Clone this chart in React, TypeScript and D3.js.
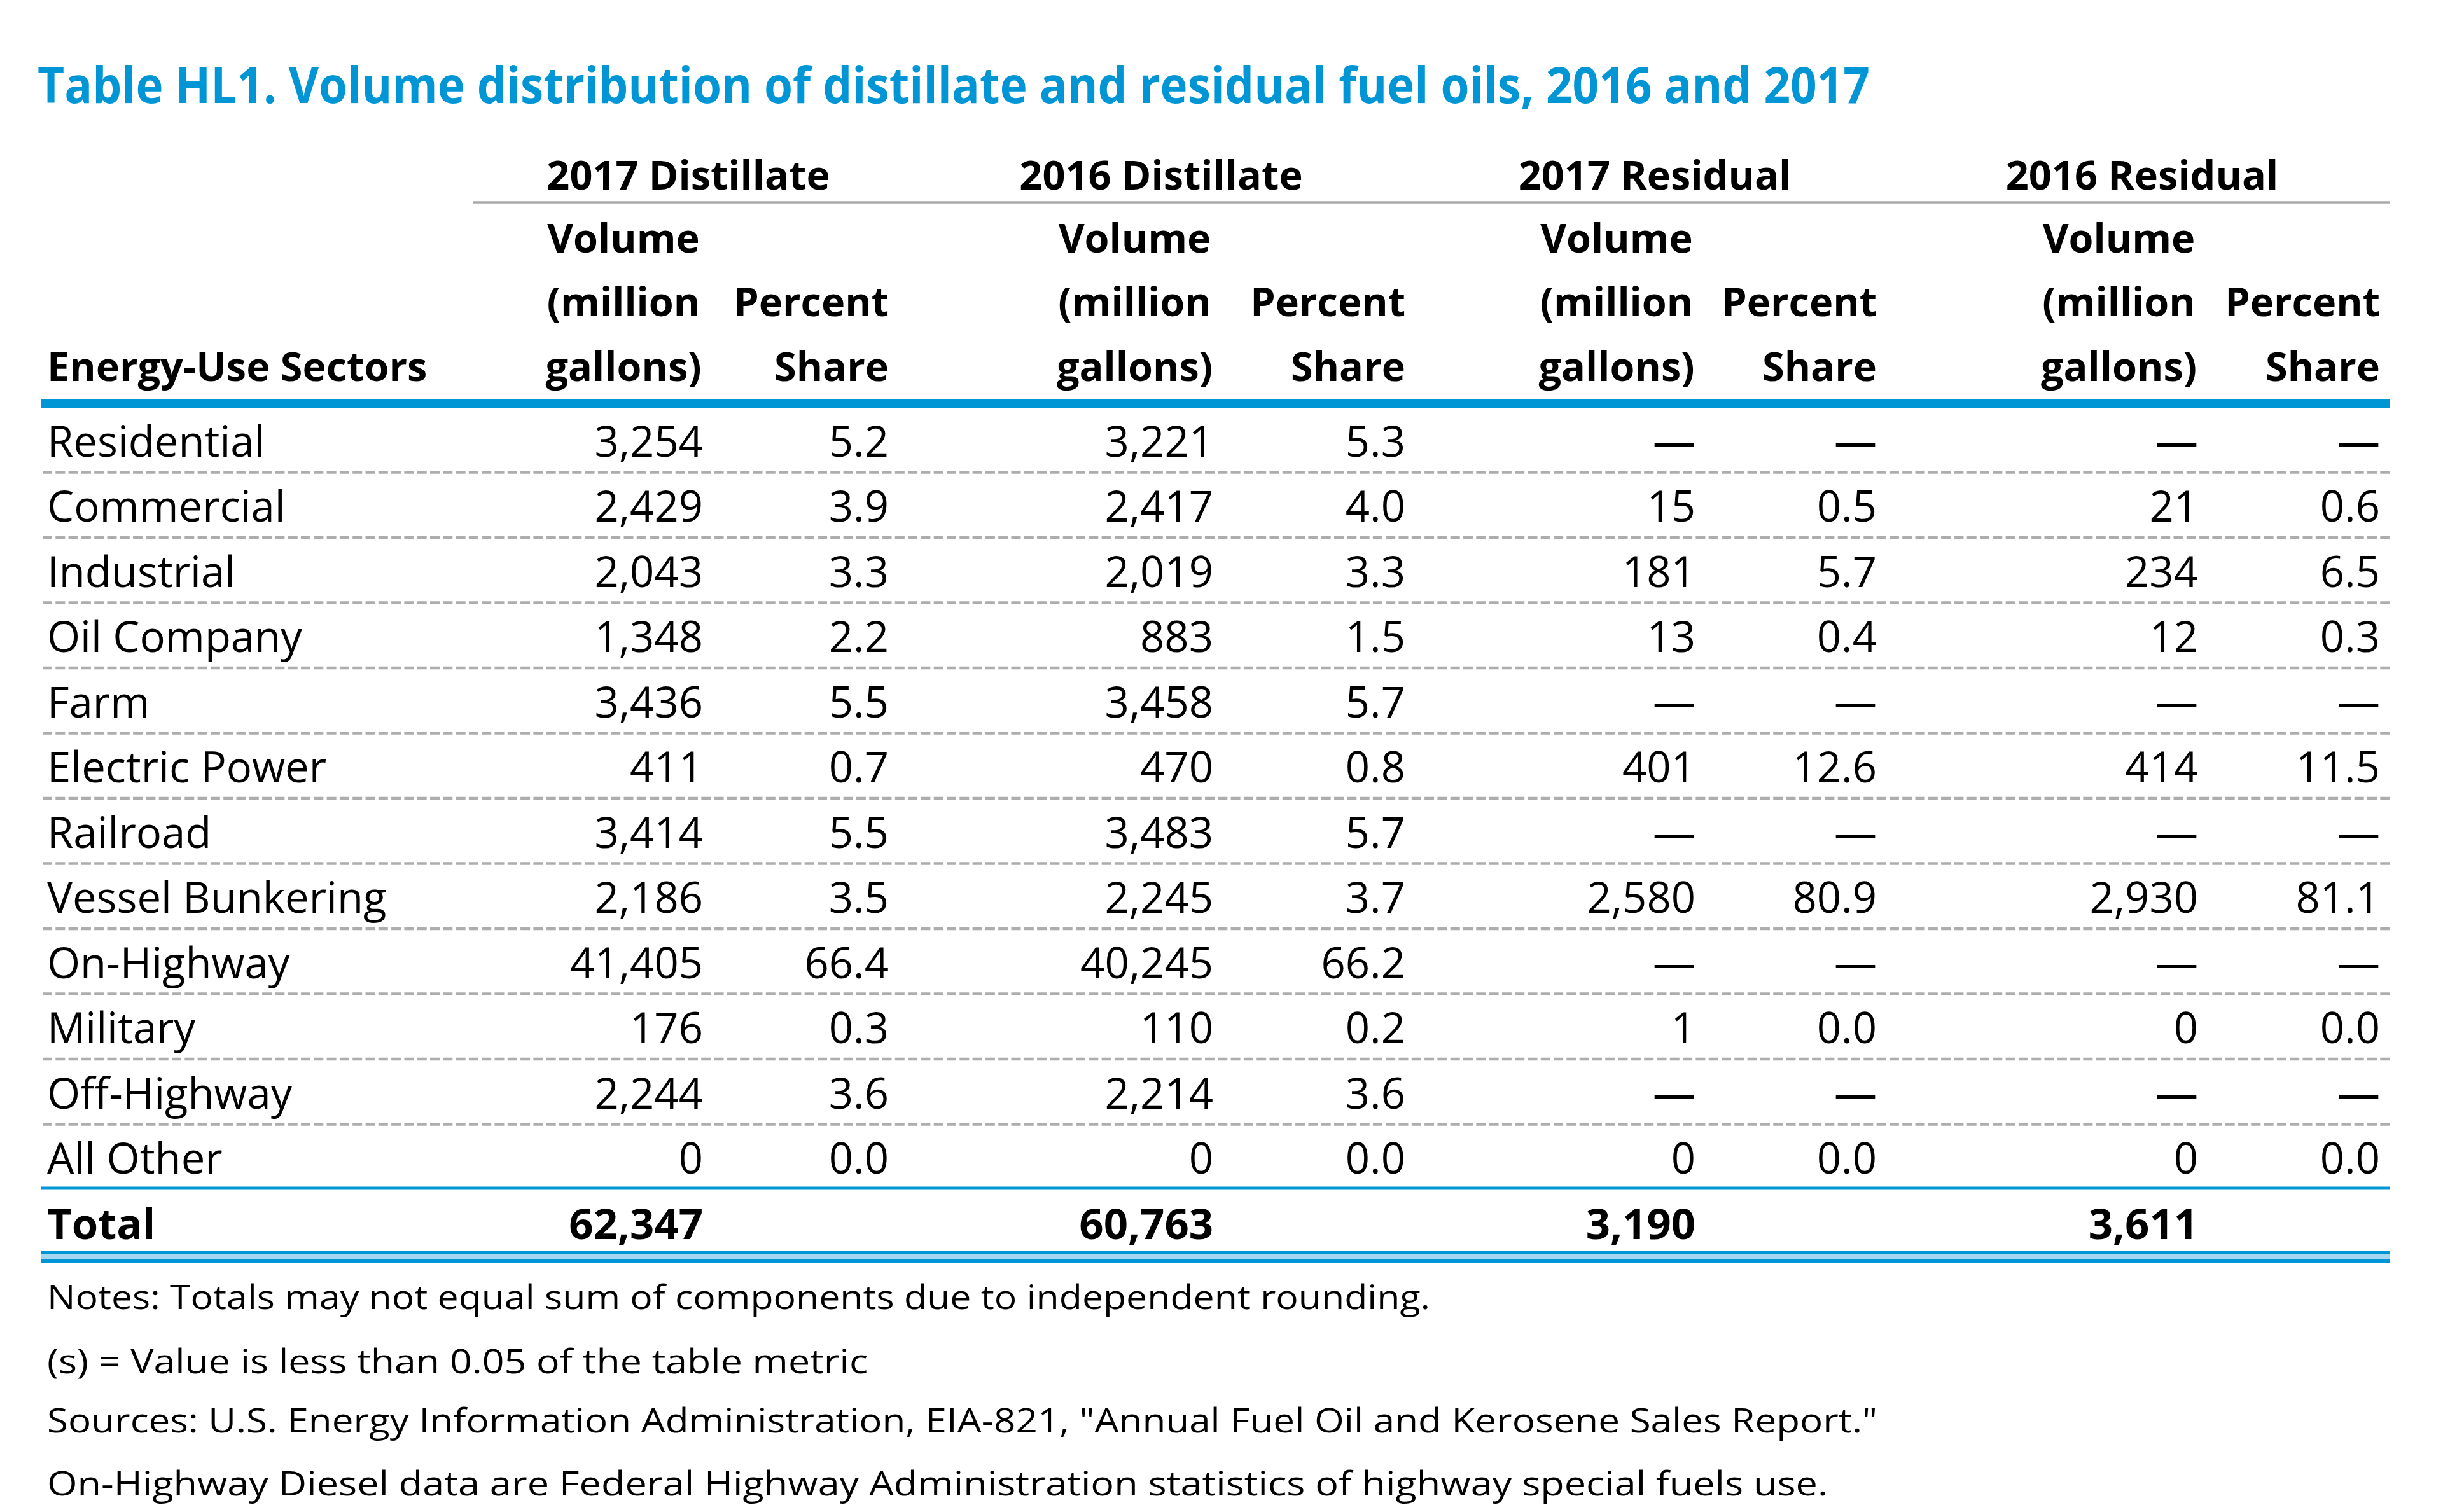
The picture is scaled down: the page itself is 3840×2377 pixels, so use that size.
import React from "react";
import * as d3 from "d3";

const TITLE = "Table HL1. Volume distribution of distillate and residual fuel oils, 2016 and 2017";
const sectors = [
  "Residential", "Commercial", "Industrial", "Oil Company", "Farm", "Electric Power",
  "Railroad", "Vessel Bunkering", "On-Highway", "Military", "Off-Highway", "All Other",
];
const groups = ["2017 Distillate", "2016 Distillate", "2017 Residual", "2016 Residual"];
const dist2017Vol = [3254, 2429, 2043, 1348, 3436, 411, 3414, 2186, 41405, 176, 2244, 0];
const dist2017Share = [5.2, 3.9, 3.3, 2.2, 5.5, 0.7, 5.5, 3.5, 66.4, 0.3, 3.6, 0.0];
const dist2016Vol = [3221, 2417, 2019, 883, 3458, 470, 3483, 2245, 40245, 110, 2214, 0];
const dist2016Share = [5.3, 4.0, 3.3, 1.5, 5.7, 0.8, 5.7, 3.7, 66.2, 0.2, 3.6, 0.0];
const resid2017Vol = [null, 15, 181, 13, null, 401, null, 2580, null, 1, null, 0];
const resid2017Share = [null, 0.5, 5.7, 0.4, null, 12.6, null, 80.9, null, 0.0, null, 0.0];
const resid2016Vol = [null, 21, 234, 12, null, 414, null, 2930, null, 0, null, 0];
const resid2016Share = [null, 0.6, 6.5, 0.3, null, 11.5, null, 81.1, null, 0.0, null, 0.0];
const totals = [62347, 60763, 3190, 3611];
const notes = [
  "Notes: Totals may not equal sum of components due to independent rounding.",
  "(s) = Value is less than 0.05 of the table metric",
  "Sources: U.S. Energy Information Administration, EIA-821, \"Annual Fuel Oil and Kerosene Sales Report.\"",
  "On-Highway Diesel data are Federal Highway Administration statistics of highway special fuels use.",
];

const W = 3840;
const H = 2377;
const BLUE = "#0096D6";
const FONT = "'Open Sans', 'Noto Sans', sans-serif";

export default function App() {
  const volCols = [dist2017Vol, dist2016Vol, resid2017Vol, resid2016Vol];
  const shareCols = [dist2017Share, dist2016Share, resid2017Share, resid2016Share];

  // layout scales
  const rowY = d3.scaleLinear().domain([0, 12]).range([717.5, 1947.5]);
  const groupIdx = d3.range(groups.length);
  const volRight = d3.scaleOrdinal<number, number>().domain(groupIdx).range([1105, 1907, 2665, 3455]);
  const shareRight = d3.scaleOrdinal<number, number>().domain(groupIdx).range([1397, 2209, 2950, 3741]);
  const volLeft = d3.scaleOrdinal<number, number>().domain(groupIdx).range([855, 1660, 2417, 3206]);
  const groupCenter = d3.scaleOrdinal<number, number>().domain(groupIdx).range([1082, 1825, 2601, 3367]);
  const noteY = d3.scaleOrdinal<number, number>().domain(d3.range(4)).range([2058, 2159, 2252, 2351]);
  const noteW = [2174, 1290, 2877, 2799];

  const fmtVol = d3.format(",");
  const fmtShare = d3.format(".1f");
  const DASH = "\u2014";

  const xL = 64;
  const xR = 3757;
  const bodySize = 67;
  const headSize = 63;

  return (
    <svg
      width={W}
      height={H}
      viewBox={`0 0 ${W} ${H}`}
      style={{ position: "absolute", left: 0, top: 0, background: "#fff", display: "block" }}
      fontFamily={FONT}
    >
      <rect x={0} y={0} width={W} height={H} fill="#fff" />
      {/* Title */}
      <text x={59} y={162} fontSize={78} fontWeight={700} fill={BLUE} textLength={2880} lengthAdjust="spacingAndGlyphs">
        {TITLE}
      </text>

      {/* Group headers */}
      {groups.map((g, i) => (
        <text key={g} x={groupCenter(i)} y={298} fontSize={headSize} fontWeight={700} textAnchor="middle" fill="#000">
          {g}
        </text>
      ))}
      <line x1={743} x2={xR} y1={318} y2={318} stroke="#A9A9A9" strokeWidth={3.5} />

      {/* Sub headers */}
      {groupIdx.map((i) => {
        const cx = (volLeft(i) + volRight(i)) / 2;
        return (
          <g key={"sh" + i} fontSize={headSize} fontWeight={700} fill="#000">
            <text x={cx} y={397} textAnchor="middle">Volume</text>
            <text x={cx} y={497} textAnchor="middle">(million</text>
            <text x={cx} y={599} textAnchor="middle">gallons)</text>
            <text x={shareRight(i)} y={497} textAnchor="end">Percent</text>
            <text x={shareRight(i)} y={599} textAnchor="end">Share</text>
          </g>
        );
      })}
      <text x={74} y={599} fontSize={headSize} fontWeight={700} fill="#000">Energy-Use Sectors</text>

      {/* Thick blue header rule */}
      <rect x={xL} y={628} width={xR - xL} height={13} fill={BLUE} />

      {/* Row separators */}
      {sectors.slice(0, -1).map((s, i) => (
        <line
          key={"sep" + s}
          x1={xL + 3}
          x2={xR}
          y1={rowY(i) + 25}
          y2={rowY(i) + 25}
          stroke="#ADADAD"
          strokeWidth={4.5}
          strokeDasharray="15 5.3"
        />
      ))}

      {/* Body rows */}
      {sectors.map((s, r) => (
        <g key={s} fontSize={bodySize} fill="#000">
          <text x={74} y={rowY(r)}>{s}</text>
          {groupIdx.map((i) => {
            const v = volCols[i][r];
            const sh = shareCols[i][r];
            return (
              <g key={i}>
                <text x={volRight(i)} y={rowY(r)} textAnchor="end">
                  {v === null ? DASH : fmtVol(v)}
                </text>
                <text x={shareRight(i)} y={rowY(r)} textAnchor="end">
                  {sh === null ? DASH : fmtShare(sh)}
                </text>
              </g>
            );
          })}
        </g>
      ))}

      {/* Rule above total */}
      <rect x={xL} y={1865.5} width={xR - xL} height={5} fill={BLUE} />

      {/* Total row */}
      <g fontSize={bodySize} fontWeight={700} fill="#000">
        <text x={74} y={rowY(12)}>Total</text>
        {totals.map((t, i) => (
          <text key={"t" + i} x={volRight(i)} y={rowY(12)} textAnchor="end">{fmtVol(t)}</text>
        ))}
      </g>

      {/* Double rule below total */}
      <rect x={xL} y={1966} width={xR - xL} height={19} fill="#A6D7F0" />
      <rect x={xL} y={1966} width={xR - xL} height={5.5} fill={BLUE} />
      <rect x={xL} y={1979.5} width={xR - xL} height={5.5} fill={BLUE} />

      {/* Notes */}
      {notes.map((n, i) => (
        <text key={"n" + i} x={74} y={noteY(i)} fontSize={53} fill="#000" textLength={noteW[i]} lengthAdjust="spacingAndGlyphs">
          {n}
        </text>
      ))}
    </svg>
  );
}
